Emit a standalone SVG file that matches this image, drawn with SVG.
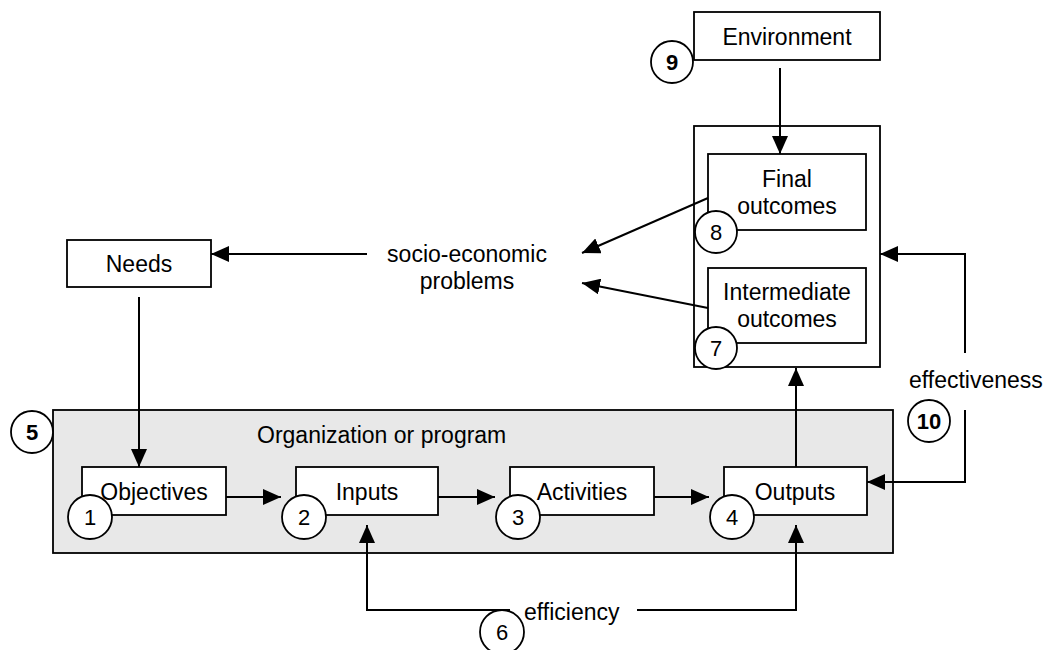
<svg xmlns="http://www.w3.org/2000/svg" width="1052" height="650" viewBox="0 0 1052 650">
<defs>
<style>
.box{fill:#fff;stroke:#000;stroke-width:1.8}
.grey{fill:#e8e8e8;stroke:#000;stroke-width:1.8}
.frame{fill:none;stroke:#000;stroke-width:1.8}
.t{font-family:"Liberation Sans",Arial,sans-serif;font-size:23px;fill:#000}
.c{text-anchor:middle}
.badge circle{fill:#fff;stroke:#000;stroke-width:1.8}
.badge text{font-family:"Liberation Sans",Arial,sans-serif;font-size:22px;text-anchor:middle;fill:#000}
.bold text{font-weight:bold}
.conn{fill:none;stroke:#000;stroke-width:2}
</style>
<marker id="arr" markerUnits="userSpaceOnUse" markerWidth="18" markerHeight="16" refX="18" refY="8" orient="auto">
<path d="M0,0 L18,8 L0,16 z" fill="#000"/>
</marker>
</defs>
<rect width="1052" height="650" fill="#fff"/>

<g id="organization">
<rect class="grey" x="53" y="410" width="840" height="143"/>
<text class="t" x="257" y="443">Organization or program</text>
</g>

<g id="outcomes-frame">
<rect class="frame" x="694" y="126" width="186" height="241"/>
</g>

<g id="environment">
<rect class="box" x="694" y="12" width="186" height="48"/>
<text class="t c" x="787" y="45">Environment</text>
</g>

<g id="final-outcomes">
<rect class="box" x="708" y="154" width="158" height="76"/>
<text class="t c" x="787" y="187">Final</text>
<text class="t c" x="787" y="214">outcomes</text>
</g>

<g id="intermediate-outcomes">
<rect class="box" x="708" y="268" width="158" height="75"/>
<text class="t c" x="787" y="300">Intermediate</text>
<text class="t c" x="787" y="327">outcomes</text>
</g>

<g id="needs">
<rect class="box" x="67" y="240" width="144" height="47"/>
<text class="t c" x="139" y="272">Needs</text>
</g>

<g id="socio-economic-problems">
<text class="t c" x="467" y="262">socio-economic</text>
<text class="t c" x="467" y="289">problems</text>
</g>

<g id="objectives">
<rect class="box" x="82" y="467" width="144" height="48"/>
<text class="t c" x="154" y="500">Objectives</text>
</g>
<g id="inputs">
<rect class="box" x="296" y="467" width="142" height="48"/>
<text class="t c" x="367" y="500">Inputs</text>
</g>
<g id="activities">
<rect class="box" x="510" y="467" width="144" height="48"/>
<text class="t c" x="582" y="500">Activities</text>
</g>
<g id="outputs">
<rect class="box" x="724" y="467" width="143" height="48"/>
<text class="t c" x="795" y="500">Outputs</text>
</g>

<g id="efficiency-label">
<text class="t" x="524" y="620">efficiency</text>
</g>
<g id="effectiveness-label">
<text class="t" x="909" y="388">effectiveness</text>
</g>

<g id="connectors">
<line class="conn" x1="780" y1="68" x2="780" y2="154" marker-end="url(#arr)"/>
<line class="conn" x1="708" y1="198" x2="582" y2="253" marker-end="url(#arr)"/>
<line class="conn" x1="708" y1="308" x2="582" y2="283" marker-end="url(#arr)"/>
<line class="conn" x1="367" y1="254" x2="211" y2="254" marker-end="url(#arr)"/>
<line class="conn" x1="139" y1="297" x2="139" y2="467" marker-end="url(#arr)"/>
<line class="conn" x1="226" y1="497" x2="281" y2="497" marker-end="url(#arr)"/>
<line class="conn" x1="438" y1="497" x2="495" y2="497" marker-end="url(#arr)"/>
<line class="conn" x1="654" y1="497" x2="709" y2="497" marker-end="url(#arr)"/>
<line class="conn" x1="796" y1="467" x2="796" y2="368" marker-end="url(#arr)"/>
<path class="conn" d="M510,610 L367,610 L367,525" marker-end="url(#arr)"/>
<path class="conn" d="M637,610 L796,610 L796,525" marker-end="url(#arr)"/>
<path class="conn" d="M965,353 L965,254 L880,254" marker-end="url(#arr)"/>
<path class="conn" d="M965,410 L965,482 L867,482" marker-end="url(#arr)"/>
</g>

<g id="badge-1" class="badge"><circle cx="90" cy="517" r="22"/><text x="90" y="525">1</text></g>
<g id="badge-2" class="badge"><circle cx="304" cy="517" r="22"/><text x="304" y="525">2</text></g>
<g id="badge-3" class="badge"><circle cx="518" cy="517" r="22"/><text x="518" y="525">3</text></g>
<g id="badge-4" class="badge"><circle cx="732" cy="517" r="22"/><text x="732" y="525">4</text></g>
<g id="badge-5" class="badge bold"><circle cx="32" cy="432" r="21"/><text x="32" y="440">5</text></g>
<g id="badge-6" class="badge"><circle cx="502" cy="632" r="22"/><text x="502" y="640">6</text></g>
<g id="badge-7" class="badge"><circle cx="716" cy="348" r="21"/><text x="716" y="356">7</text></g>
<g id="badge-8" class="badge"><circle cx="716" cy="232" r="21"/><text x="716" y="240">8</text></g>
<g id="badge-9" class="badge bold"><circle cx="672" cy="62" r="21"/><text x="672" y="70">9</text></g>
<g id="badge-10" class="badge bold"><circle cx="929" cy="421" r="21"/><text x="929" y="429">10</text></g>
</svg>
